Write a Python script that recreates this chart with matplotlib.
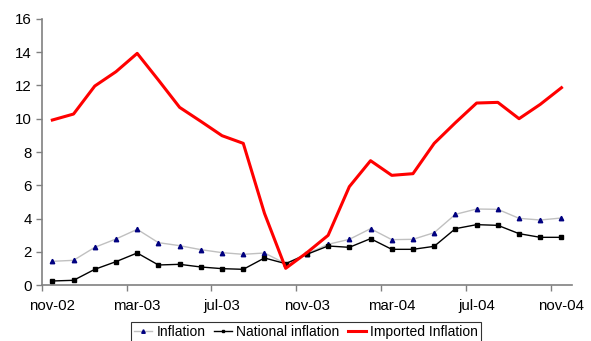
import matplotlib
matplotlib.use("Agg")
import matplotlib.pyplot as plt
import numpy as np

plt.rcParams['font.family'] = ['Liberation Sans', 'DejaVu Sans']

months = ["nov-02", "dec-02", "jan-03", "feb-03", "mar-03", "apr-03", "may-03",
          "jun-03", "jul-03", "aug-03", "sep-03", "oct-03", "nov-03", "dec-03",
          "jan-04", "feb-04", "mar-04", "apr-04", "may-04", "jun-04", "jul-04",
          "aug-04", "sep-04", "oct-04", "nov-04"]

inflation = [1.44, 1.50, 2.28, 2.78, 3.36, 2.56, 2.38, 2.14, 1.96, 1.86, 1.94,
             1.30, 1.90, 2.46, 2.76, 3.40, 2.74, 2.76, 3.16, 4.26, 4.58, 4.56,
             4.02, 3.92, 4.04]
national = [0.26, 0.30, 0.96, 1.42, 1.94, 1.22, 1.26, 1.10, 1.00, 0.96, 1.64,
            1.30, 1.86, 2.36, 2.28, 2.80, 2.16, 2.16, 2.34, 3.40, 3.64, 3.60,
            3.10, 2.88, 2.88]
imported = [9.92, 10.28, 11.96, 12.82, 13.92, 12.32, 10.68, 9.84, 8.98, 8.52,
            4.32, 1.02, 1.96, 3.00, 5.92, 7.48, 6.60, 6.70, 8.52, 9.76, 10.94,
            10.98, 10.00, 10.86, 11.86]

x = np.arange(len(months))

fig = plt.figure(figsize=(5.91, 3.41), dpi=100)
ax = fig.add_axes([0.0706, 0.1633, 0.8974, 0.7818])

ax.plot(x, inflation, color='#c0c0c0', lw=1.0, marker='^', ms=3.2,
        mfc='#000080', mec='#000080', label='Inflation', zorder=3)
ax.plot(x, national, color='black', lw=1.0, marker='s', ms=2.6,
        mfc='black', mec='black', label='National inflation', zorder=4)
ax.plot(x, imported, color='#ff0000', lw=2.2, label='Imported Inflation',
        zorder=5)

ax.set_xlim(-0.5, len(months) - 0.5)
ax.set_ylim(0, 16)
ax.set_yticks(np.arange(0, 17, 2))

# tick marks on category boundaries, labels on category centres
ax.set_xticks(np.arange(-0.5, len(months), 4))
ax.set_xticklabels([])
ax.set_xticks(x[::4], minor=True)
ax.set_xticklabels(months[::4], minor=True)
ax.tick_params(axis='x', which='major', length=4, width=1, color='#808080',
               direction='out')
ax.tick_params(axis='x', which='minor', length=0, pad=10, labelsize=10.8)
ax.tick_params(axis='y', length=4, width=1, color='#808080', direction='out',
               labelsize=10.8, pad=3)

for side in ('top', 'right'):
    ax.spines[side].set_visible(False)
for side in ('left', 'bottom'):
    ax.spines[side].set_color('#808080')
    ax.spines[side].set_linewidth(1.2)

leg = fig.legend(loc='upper center', bbox_to_anchor=(0.518, 0.057), ncol=3,
                 frameon=True, fancybox=False, fontsize=10, handlelength=1.3,
                 handletextpad=0.3, columnspacing=0.6, borderpad=0.25,
                 borderaxespad=0, markerscale=0.8)
leg.get_frame().set_edgecolor('black')
leg.get_frame().set_linewidth(0.8)

fig.savefig('out.png', dpi=100)
